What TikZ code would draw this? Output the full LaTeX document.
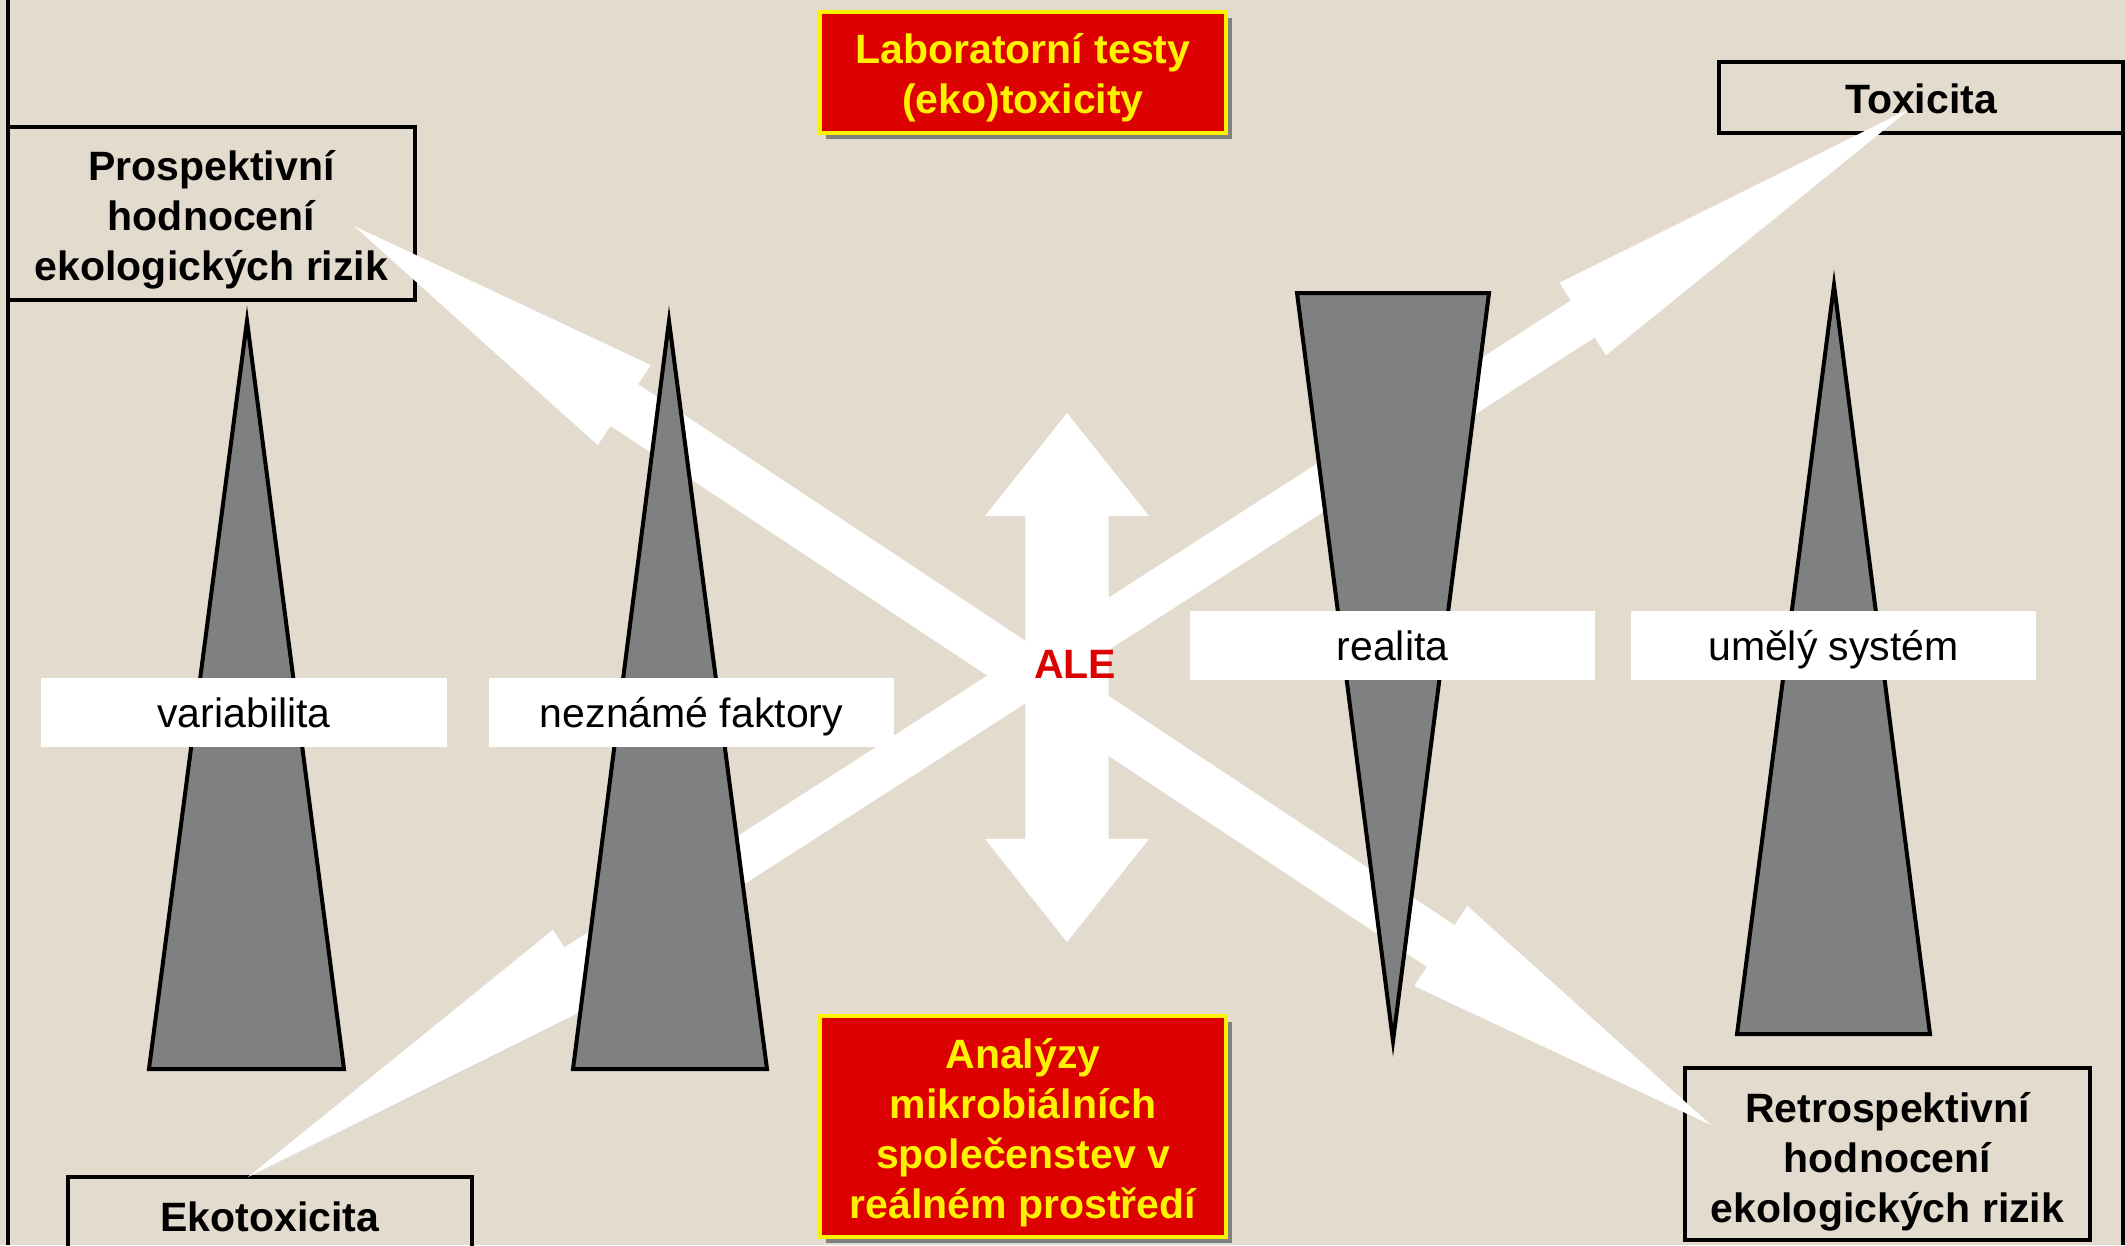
\documentclass[tikz,border=0pt]{standalone}
\usepackage{fontspec}
\setmainfont{Liberation Sans}
\usetikzlibrary{calc,shadows}

\pgfdeclarelayer{bg}
\pgfdeclarelayer{frames}
\pgfdeclarelayer{arrowlayer}
\pgfsetlayers{bg,frames,arrowlayer,main}

\definecolor{paper}{RGB}{227,219,205}
\definecolor{boxred}{RGB}{221,0,0}
\definecolor{wedgegray}{RGB}{128,128,128}
\definecolor{alered}{RGB}{221,0,0}

\newcommand{\titlefont}{\fontsize{11.66}{14.23}\selectfont\bfseries}
\newcommand{\tagfont}{\fontsize{11.66}{14.23}\selectfont}

% double-headed block arrow: #1 tip, #2 tip, #3 half shaft, #4 half head, #5 head length
\newcommand{\dblarrow}[5]{%
  \fill[arrowfill] (#1)
    -- ($(#1)!#5!(#2)!#4!90:(#2)$)
    -- ($(#1)!#5!(#2)!#3!90:(#2)$)
    -- ($(#2)!#5!(#1)!#3!-90:(#1)$)
    -- ($(#2)!#5!(#1)!#4!-90:(#1)$)
    -- (#2)
    -- ($(#2)!#5!(#1)!#4!90:(#1)$)
    -- ($(#2)!#5!(#1)!#3!90:(#1)$)
    -- ($(#1)!#5!(#2)!#3!-90:(#2)$)
    -- ($(#1)!#5!(#2)!#4!-90:(#2)$)
    -- cycle;}

\tikzset{
  outline/.style={draw=black, line width=0.035cm},
  framebox/.style={outline, inner sep=0pt},
  titletext/.style={inner sep=0pt, align=center, font=\titlefont, text=black},
  redbox/.style={fill=boxred, draw=yellow, line width=0.035cm, inner sep=0pt,
    drop shadow={shadow xshift=0.06cm, shadow yshift=-0.06cm, fill=wedgegray, opacity=1}},
  redtext/.style={inner sep=0pt, align=center, font=\titlefont, text=yellow},
  tag/.style={fill=white, inner sep=0pt, font=\tagfont, text=black,
    minimum width=4.05cm, minimum height=0.69cm, text height=0.30cm, text depth=0cm},
  wedge/.style={fill=wedgegray, draw=black, line width=0.04cm},
  arrowfill/.style={fill=white},
}

\begin{document}
\begin{tikzpicture}[x=0.01cm, y=-0.01cm]
\useasboundingbox (0,0) rectangle (2125,1245);

\begin{pgfonlayer}{bg}
  \fill[paper] (0,0) rectangle (2125,1245);
\end{pgfonlayer}

% slide edges
\draw[outline] (8,0) -- (8,1245);
\draw[outline] (2123,133) -- (2123,1245);

% black frames, kept below the arrows
\begin{pgfonlayer}{frames}
  \node[framebox, minimum width=4.07cm, minimum height=1.73cm] (pro) at (211.5,213.5) {};
  \node[framebox, minimum width=4.04cm, minimum height=0.71cm] (tox) at (1921,97.5) {};
  \node[framebox, minimum width=4.04cm, minimum height=0.71cm] (eko) at (270,1212.5) {};
  \node[framebox, minimum width=4.05cm, minimum height=1.72cm] (retro) at (1887.5,1154) {};
\end{pgfonlayer}

% their texts
\node[titletext] (proText) at ($(pro.center)+(0,6)$)
  {Prospektivní\\hodnocení\\ekologických rizik};
\node[titletext] (toxText) at ($(tox.center)+(0,1)$) {Toxicita};
\node[titletext] (ekoText) at ($(eko.center)+(0,4)$) {Ekotoxicita};
\node[titletext] (retroText) at ($(retro.center)+(0,8)$)
  {Retrospektivní\\hodnocení\\ekologických rizik};

% red method boxes
\node[redbox, minimum width=4.06cm, minimum height=1.21cm] (lab) at (1023,72.5) {};
\node[redtext] (labText) at ($(lab.center)+(0,5)$) {Laboratorní testy\\(eko)toxicity};
\node[redbox, minimum width=4.06cm, minimum height=2.21cm] (ana) at (1023,1126.5) {};
\node[redtext] (anaText) at ($(ana.center)+(0,6)$)
  {Analýzy\\mikrobiálních\\společenstev v\\reálném prostředí};

% arrow tips
\coordinate (proTip) at (354,226);
\coordinate (retroTip) at (1711,1125);
\coordinate (ekoTip) at (248,1177);
\coordinate (toxTip) at (1911,108);
\coordinate (labTip) at (1067,413);
\coordinate (anaTip) at (1067,942);

\begin{pgfonlayer}{arrowlayer}
  \dblarrow{proTip}{retroTip}{0.25cm}{0.48cm}{3.24cm}
  \dblarrow{ekoTip}{toxTip}{0.22cm}{0.43cm}{3.90cm}
  \dblarrow{labTip}{anaTip}{0.415cm}{0.82cm}{1.03cm}
\end{pgfonlayer}

% grey wedges
\draw[wedge] (247,321) -- (344,1069) -- (149,1069) -- cycle;
\draw[wedge] (669,321) -- (767,1069) -- (573,1069) -- cycle;
\draw[wedge] (1297,293) -- (1489,293) -- (1393,1041) -- cycle;
\draw[wedge] (1834,285) -- (1930,1034) -- (1737,1034) -- cycle;

% labels on the wedges
\node[tag] (var) at (244,712.5) {variabilita};
\node[tag] (nez) at (691.5,712.5) {neznámé faktory};
\node[tag] (real) at (1392.5,645.5) {realita};
\node[tag] (umel) at (1833.5,645.5) {umělý systém};

\node[font=\titlefont, text=alered, inner sep=0pt] (ale) at (1075,664) {ALE};
\end{tikzpicture}
\end{document}
